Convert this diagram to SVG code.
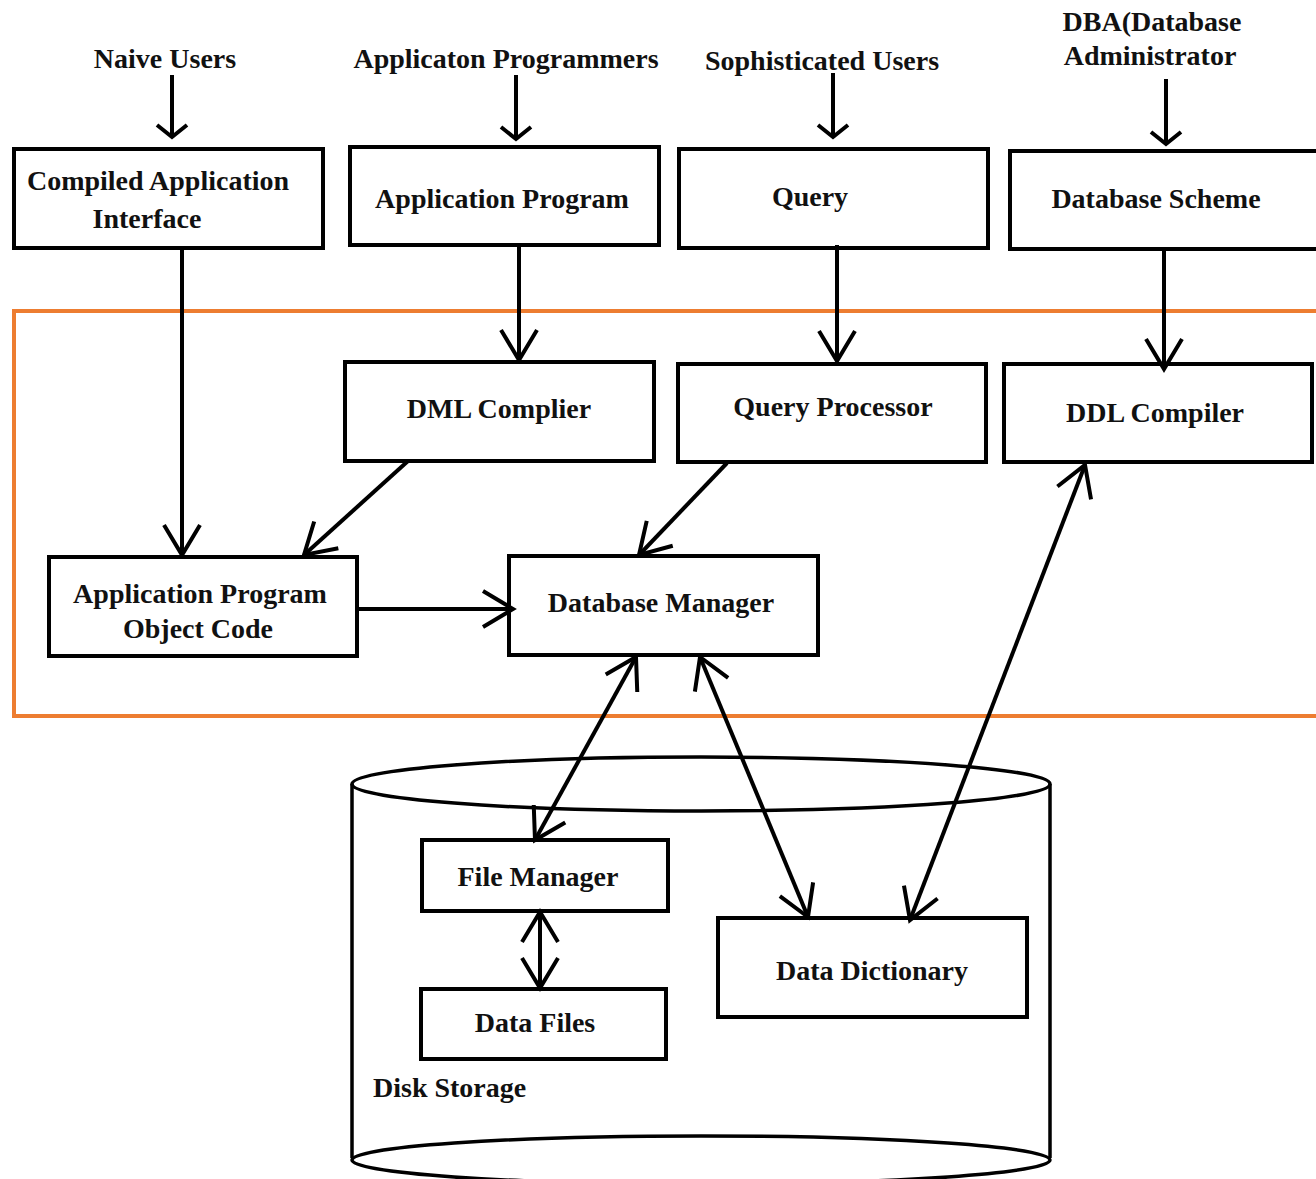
<svg xmlns="http://www.w3.org/2000/svg" width="1316" height="1179" viewBox="0 0 1316 1179">
  <style>
    text { font-family: "Liberation Serif", "Times New Roman", serif; font-weight: bold; font-size: 28px; fill: #111; }
    .mid { text-anchor: middle; }
    .box { fill: #fff; stroke: #000; stroke-width: 4; }
    .wire { stroke: #000; stroke-width: 4; fill: none; }
    .frame { fill: none; stroke: #ED7D31; stroke-width: 4; }
    .disk { fill: none; stroke: #000; stroke-width: 3.5; }
  </style>
  <defs>
    <!-- small open chevron used for the user arrows -->
    <marker id="sm" markerUnits="userSpaceOnUse" viewBox="-16 -18 20 36" refX="0" refY="0" markerWidth="20" markerHeight="36" orient="auto-start-reverse" overflow="visible">
      <path d="M-12,-15 L0,0 L-12,15" fill="none" stroke="#000" stroke-width="4"/>
    </marker>
    <!-- large open chevron used inside the system -->
    <marker id="lg" markerUnits="userSpaceOnUse" viewBox="-36 -22 40 44" refX="0" refY="0" markerWidth="40" markerHeight="44" orient="auto-start-reverse" overflow="visible">
      <path d="M-30,-18 L0,0 L-30,18" fill="none" stroke="#000" stroke-width="4"/>
    </marker>
  </defs>

  <rect width="1316" height="1179" fill="#fff"/>

  <!-- DBMS boundary -->
  <rect class="frame" x="14" y="311" width="1320" height="405"/>

  <!-- disk storage cylinder -->
  <g id="disk-storage">
    <path class="disk" d="M352,784 L352,1158 M1050,784 L1050,1158"/>
    <ellipse class="disk" cx="701" cy="784" rx="349" ry="27"/>
    <ellipse class="disk" cx="701" cy="1160" rx="349" ry="24"/>
    <text x="373" y="1097">Disk Storage</text>
  </g>

  <!-- user labels -->
  <g id="naive-users"><text class="mid" x="165" y="68">Naive Users</text></g>
  <g id="app-programmers"><text class="mid" x="506" y="68">Applicaton Programmers</text></g>
  <g id="sophisticated-users"><text class="mid" x="822" y="70">Sophisticated Users</text></g>
  <g id="dba"><text class="mid" x="1152" y="31">DBA(Database</text><text class="mid" x="1150" y="65">Administrator</text></g>

  <!-- nodes -->
  <g id="compiled-app-interface">
    <rect class="box" x="14" y="149" width="309" height="99"/>
    <text class="mid" x="158" y="190">Compiled Application</text>
    <text class="mid" x="147" y="228">Interface</text>
  </g>
  <g id="application-program">
    <rect class="box" x="350" y="147" width="309" height="98"/>
    <text class="mid" x="502" y="208">Application Program</text>
  </g>
  <g id="query">
    <rect class="box" x="679" y="149" width="309" height="99"/>
    <text class="mid" x="810" y="206">Query</text>
  </g>
  <g id="database-scheme">
    <rect class="box" x="1010" y="151" width="320" height="98"/>
    <text class="mid" x="1156" y="208">Database Scheme</text>
  </g>
  <g id="dml-compiler">
    <rect class="box" x="345" y="362" width="309" height="99"/>
    <text class="mid" x="499" y="418">DML Complier</text>
  </g>
  <g id="query-processor">
    <rect class="box" x="678" y="364" width="308" height="98"/>
    <text class="mid" x="833" y="416">Query Processor</text>
  </g>
  <g id="ddl-compiler">
    <rect class="box" x="1004" y="364" width="308" height="98"/>
    <text class="mid" x="1155" y="422">DDL Compiler</text>
  </g>
  <g id="app-object-code">
    <rect class="box" x="49" y="557" width="308" height="99"/>
    <text class="mid" x="200" y="603">Application Program</text>
    <text class="mid" x="198" y="638">Object Code</text>
  </g>
  <g id="database-manager">
    <rect class="box" x="509" y="556" width="309" height="99"/>
    <text class="mid" x="661" y="612">Database Manager</text>
  </g>
  <g id="file-manager">
    <rect class="box" x="422" y="840" width="246" height="71"/>
    <text class="mid" x="538" y="886">File Manager</text>
  </g>
  <g id="data-files">
    <rect class="box" x="421" y="989" width="245" height="70"/>
    <text class="mid" x="535" y="1032">Data Files</text>
  </g>
  <g id="data-dictionary">
    <rect class="box" x="718" y="918" width="309" height="99"/>
    <text class="mid" x="872" y="980">Data Dictionary</text>
  </g>

  <!-- connectors -->
  <g id="connectors">
    <line class="wire" x1="172" y1="75" x2="172" y2="137" marker-end="url(#sm)"/>
    <line class="wire" x1="516" y1="75" x2="516" y2="139" marker-end="url(#sm)"/>
    <line class="wire" x1="833" y1="73" x2="833" y2="137" marker-end="url(#sm)"/>
    <line class="wire" x1="1166" y1="79" x2="1166" y2="144" marker-end="url(#sm)"/>

    <line class="wire" x1="182" y1="248" x2="182" y2="555" marker-end="url(#lg)"/>
    <line class="wire" x1="519" y1="245" x2="519" y2="360" marker-end="url(#lg)"/>
    <line class="wire" x1="837" y1="245" x2="837" y2="361" marker-end="url(#lg)"/>
    <line class="wire" x1="1164" y1="249" x2="1164" y2="369" marker-end="url(#lg)"/>

    <line class="wire" x1="408" y1="461" x2="304" y2="555" marker-end="url(#lg)"/>
    <line class="wire" x1="727" y1="463" x2="639" y2="555" marker-end="url(#lg)"/>
    <line class="wire" x1="357" y1="609" x2="513" y2="609" marker-end="url(#lg)"/>

    <line class="wire" x1="636" y1="657" x2="535" y2="840" marker-start="url(#lg)" marker-end="url(#lg)"/>
    <line class="wire" x1="700" y1="657" x2="808" y2="917" marker-start="url(#lg)" marker-end="url(#lg)"/>
    <line class="wire" x1="1085" y1="465" x2="910" y2="920" marker-start="url(#lg)" marker-end="url(#lg)"/>
    <line class="wire" x1="540" y1="912" x2="540" y2="988" marker-start="url(#lg)" marker-end="url(#lg)"/>
  </g>
</svg>
